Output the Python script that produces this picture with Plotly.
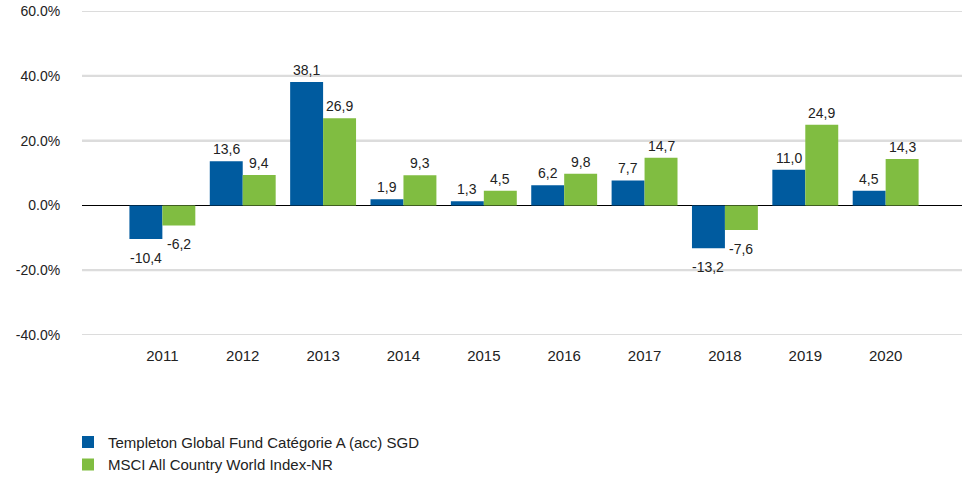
import plotly.graph_objects as go

years = ["2011", "2012", "2013", "2014", "2015", "2016", "2017", "2018", "2019", "2020"]
fund = [-10.4, 13.6, 38.1, 1.9, 1.3, 6.2, 7.7, -13.2, 11.0, 4.5]
index = [-6.2, 9.4, 26.9, 9.3, 4.5, 9.8, 14.7, -7.6, 24.9, 14.3]
fund_name = "Templeton Global Fund Catégorie A (acc) SGD"
index_name = "MSCI All Country World Index-NR"
y_ticks = [-40, -20, 0, 20, 40, 60]
y_tick_labels = ["-40.0%", "-20.0%", "0.0%", "20.0%", "40.0%", "60.0%"]

FONT = "Liberation Sans, Arial, sans-serif"
TXT = "#222222"
GRID = "#DCDCDC"
BARGAP = 0.18

def lab(v):
    return f"{v:.1f}".replace(".", ",")

fig = go.Figure()
fig.add_trace(go.Bar(x=years, y=fund, name=fund_name, marker_color="#005B9F"))
fig.add_trace(go.Bar(x=years, y=index, name=index_name, marker_color="#80BD41"))

# value labels, placed in data coordinates (category index +/- half a bar)
half = (1 - BARGAP) / 4
for series, off in ((fund, -half), (index, half)):
    for i, v in enumerate(series):
        fig.add_annotation(
            x=i + off, y=v, xref="x", yref="y", text=lab(v), showarrow=False,
            yanchor="bottom" if v >= 0 else "top",
            yshift=2 if v >= 0 else -9,
            font=dict(size=14, color=TXT, family=FONT),
        )

# horizontal gridlines at the tick values (zero handled by zeroline)
for t in y_ticks:
    if t != 0:
        fig.add_shape(type="line", xref="paper", x0=0, x1=1, yref="y", y0=t, y1=t,
                      line=dict(color=GRID, width=2), layer="below")

fig.update_layout(
    template="none",
    width=962, height=477,
    margin=dict(l=82, r=0, t=11, b=142, autoexpand=False),
    paper_bgcolor="white", plot_bgcolor="white",
    barmode="group", bargap=BARGAP, bargroupgap=0,
    font=dict(family=FONT, size=15, color=TXT),
    showlegend=True,
    legend=dict(orientation="v", x=-14/880, xanchor="left", y=-0.28, yanchor="top",
                font=dict(size=15, family=FONT, color=TXT),
                bgcolor="rgba(0,0,0,0)", tracegroupgap=0),
)
fig.update_xaxes(
    type="category", range=[-1, 9.95], showgrid=False, showline=False, zeroline=False,
    ticks="outside", ticklen=7, tickcolor="rgba(0,0,0,0)", automargin=False,
    tickfont=dict(size=15, family=FONT, color=TXT),
)
fig.update_yaxes(
    range=[-40, 60], tickmode="array", tickvals=y_ticks, ticktext=y_tick_labels,
    showgrid=True, gridcolor=GRID, gridwidth=2,
    zeroline=True, zerolinecolor="#000000", zerolinewidth=1,
    showline=False, ticks="outside", ticklen=18, tickcolor="rgba(0,0,0,0)",
    automargin=False,
    tickfont=dict(size=14, family=FONT, color=TXT),
)

fig.write_html("out.html", config={"displayModeBar": False},
               post_script="document.body.style.margin='0px';")
